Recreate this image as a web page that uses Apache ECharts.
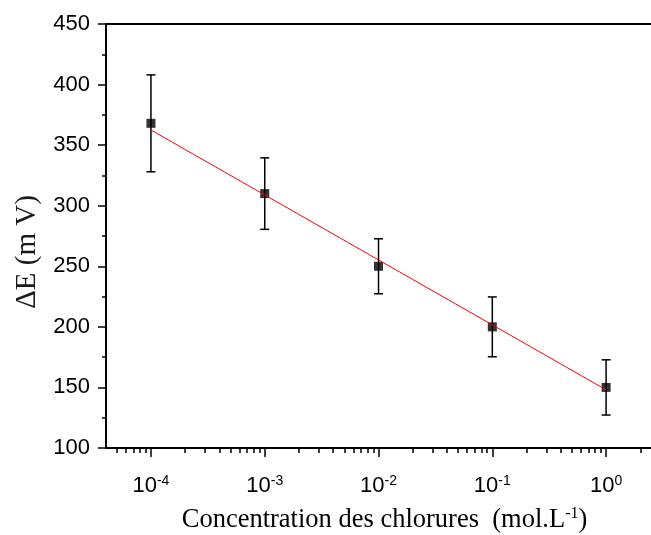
<!DOCTYPE html>
<html><head><meta charset="utf-8">
<script src="https://cdn.jsdelivr.net/npm/echarts@6/dist/echarts.min.js"></script>
<style>html,body{margin:0;padding:0;background:#fff}#c{width:651px;height:535px}</style>
</head><body><div id="c"></div>
<script>
// ---- data ----
const concentrations = [1e-4, 1e-3, 1e-2, 1e-1, 1];
const deltaE = [368, 310, 250, 200, 150];
const errors = [40, 29.5, 22.7, 24.7, 22.8];
const fitConcentrations = [1e-4, 1];
const fitDeltaE = [362.5, 148];
const xTickExponents = [-4, -3, -2, -1, 0];
const yTickValues = [100, 150, 200, 250, 300, 350, 400, 450];
const xTitle = 'Concentration des chlorures  (mol.L';
const xTitleSup = '-1';
const yTitle = 'ΔE (m V)';

// ---- axis ranges (log10 of concentration) ----
const X_MIN = -4.395, X_MAX = 0.5;
const minorTicks = [];
for (let n = -5; n <= 0; n++) {
  for (let k = 2; k <= 9; k++) {
    const v = n + Math.log10(k);
    if (v > X_MIN && v < X_MAX) minorTicks.push(v);
  }
}

const errData = concentrations.map((c, i) => [Math.log10(c), deltaE[i] - errors[i], deltaE[i] + errors[i]]);
const ptData = concentrations.map((c, i) => [Math.log10(c), deltaE[i]]);
const fitData = fitConcentrations.map((c, i) => [Math.log10(c), fitDeltaE[i]]);

const chart = echarts.init(document.getElementById('c'), null, {renderer: 'canvas'});
const sans = 'Liberation Sans, Arial, sans-serif';
const serif = 'Liberation Serif, Times New Roman, serif';

chart.setOption({
  animation: false,
  backgroundColor: '#fff',
  grid: {left: 106, top: 24, width: 557, height: 424, show: true, borderColor: '#000', borderWidth: 2,
    backgroundColor: 'transparent', containLabel: false, outerBoundsMode: 'none'},
  xAxis: [{
    type: 'value', min: X_MIN, max: X_MAX, position: 'bottom',
    axisLine: {onZero: false, lineStyle: {color: '#000', width: 2}},
    axisTick: {customValues: xTickExponents, length: 9, lineStyle: {color: '#000', width: 1.5}},
    axisLabel: {
      customValues: xTickExponents, margin: 26,
      formatter: v => '{b|10}{s|' + Math.round(v) + '}',
      rich: {
        b: {fontSize: 22, fontFamily: sans, color: '#000', lineHeight: 24},
        s: {fontSize: 14, fontFamily: sans, color: '#000', verticalAlign: 'top', lineHeight: 14}
      }
    },
    splitLine: {show: false},
    name: '{t|' + xTitle + '}{s|' + xTitleSup + '}{t|)}',
    nameLocation: 'middle', nameGap: 58,
    nameTextStyle: {
      rich: {
        t: {fontSize: 26.5, fontFamily: serif, color: '#000', lineHeight: 28},
        s: {fontSize: 16, fontFamily: serif, color: '#000', verticalAlign: 'top', lineHeight: 16}
      }
    }
  }, {
    type: 'value', min: X_MIN, max: X_MAX, position: 'bottom', gridIndex: 0,
    axisLine: {show: false, onZero: false},
    axisTick: {customValues: minorTicks, length: 5, lineStyle: {color: '#000', width: 1.5}},
    axisLabel: {show: false},
    splitLine: {show: false}
  }],
  yAxis: {
    type: 'value', min: 100, max: 450, interval: 50,
    axisLine: {show: true, onZero: false, lineStyle: {color: '#000', width: 2}},
    axisTick: {show: true, length: 8, lineStyle: {color: '#000', width: 1.5}},
    minorTick: {show: true, splitNumber: 2, length: 4, lineStyle: {color: '#000', width: 1.5}},
    axisLabel: {fontSize: 22, fontFamily: sans, color: '#000', margin: 16,
      formatter: v => yTickValues.includes(v) ? String(v) : ''},
    splitLine: {show: false}
  },
  graphic: [{
    type: 'text', x: 27, y: 252, rotation: Math.PI / 2,
    style: {text: yTitle, font: '29px Liberation Serif, Times New Roman, serif', fill: '#1a1a1a', align: 'center', verticalAlign: 'middle'}
  }],
  series: [{
    type: 'custom', xAxisIndex: 0, data: errData, encode: {x: 0, y: [1, 2]}, z: 2,
    renderItem: (params, api) => {
      const x = api.value(0);
      const lo = api.coord([x, api.value(1)]);
      const hi = api.coord([x, api.value(2)]);
      const w = 4.5;
      const st = {stroke: '#000', lineWidth: 1.5};
      return {type: 'group', children: [
        {type: 'line', shape: {x1: lo[0], y1: lo[1], x2: hi[0], y2: hi[1]}, style: st},
        {type: 'line', shape: {x1: hi[0] - w, y1: hi[1], x2: hi[0] + w, y2: hi[1]}, style: st},
        {type: 'line', shape: {x1: lo[0] - w, y1: lo[1], x2: lo[0] + w, y2: lo[1]}, style: st}
      ]};
    }
  }, {
    type: 'scatter', xAxisIndex: 0, data: ptData, symbol: 'rect', symbolSize: 9, z: 3,
    itemStyle: {color: '#000'}
  }, {
    type: 'line', xAxisIndex: 0, data: fitData, symbol: 'none', z: 4,
    lineStyle: {color: '#ff0000', width: 1}
  }]
});
</script>
</body></html>
